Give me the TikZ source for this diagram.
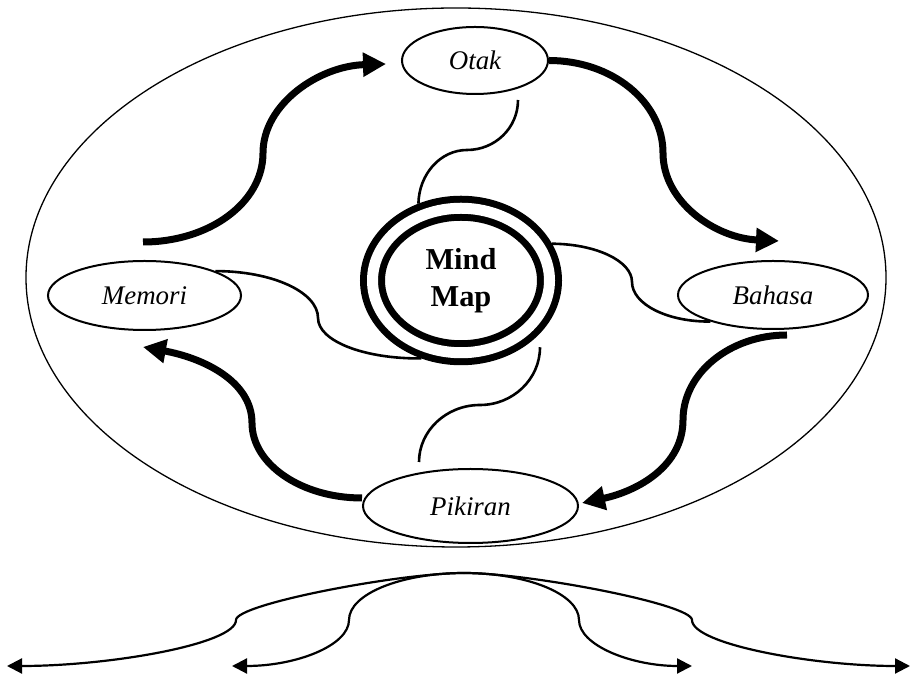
\documentclass[tikz,border=0pt]{standalone}
\usepackage{fontspec}
\setmainfont{Liberation Serif}
\usetikzlibrary{shapes.geometric,arrows.meta,calc}

\begin{document}
\begin{tikzpicture}[x=1bp,y=1bp,
    topic/.style={ellipse,draw,line width=2bp,inner sep=0pt,
      font=\fontsize{27}{32}\selectfont\itshape},
    flow/.style={line width=7bp,-{Triangle[length=23bp,width=23bp]}},
    link/.style={line width=2.6bp},
    branch/.style={line width=2.2bp,-{Triangle[length=15bp,width=15bp]}}]
    \useasboundingbox (0,0) rectangle (913,674);
    \draw[line width=1.3bp] (456,396.5) ellipse [x radius=430bp,y radius=269.5bp];
    % topics
    \node[topic,minimum width=146bp,minimum height=67bp] (otak) at (475,613.5) {Otak};
    \node[topic,minimum width=193bp,minimum height=69bp] (memori) at (144.5,378.5) {Memori};
    \node[topic,minimum width=190bp,minimum height=68bp] (bahasa) at (773,379) {Bahasa};
    \node[topic,minimum width=215bp,minimum height=74bp] (pikiran) at (470.5,168) {Pikiran};
    \node[ellipse,draw,line width=7bp,double,double distance=11bp,outer sep=12.5bp,
      minimum width=177bp,minimum height=144.5bp,align=center,
      font=\fontsize{30.5}{37}\selectfont\bfseries] (mind) at (461,393.5) {Mind\\Map};
    % cycle
    \draw[flow] ($(memori.north)+(-1.5,18)$) .. controls (209,432) and (263,471) .. (263,521)
      .. controls (263,570) and (319,608) .. ($(otak.west)+(-15,-3.5)$);
    \draw[flow] (otak.east) .. controls (612,613.5) and (663,572) .. (663,521)
      .. controls (663,472) and (715,436) .. ($(bahasa.north)+(6,19)$);
    \draw[flow] ($(bahasa.south)+(14,-5)$) .. controls (730,339) and (683,301) .. (683,254)
      .. controls (683,208) and (638,183) .. ($(pikiran.east)+(3,3)$);
    \draw[flow] ($(pikiran.west)+(0,8)$) .. controls (301,176) and (252,210) .. (252,251)
      .. controls (252,293) and (203,316) .. ($(memori.south)+(-1.5,-16)$);
    % links to the centre
    \draw[link] ($(otak.south)+(43,-5)$) .. controls (518,546) and (495,524) .. (467,524)
      .. controls (440.5,524) and (419,500) .. (mind.119);
    \draw[link] (mind.22) .. controls (596,430) and (632,413) .. (632,392)
      .. controls (632,370) and (667,352) .. (bahasa.203);
    \draw[link] (memori.19) .. controls (272,403) and (318,382) .. (318,356)
      .. controls (318,333) and (364,315) .. (mind.243);
    \draw[link] ($(mind.south)+(79,18)$) .. controls (540,295) and (513,269) .. (480,269)
      .. controls (446,269) and (419,243) .. ($(pikiran.north)+(-51.5,6)$);
    % branches
    \coordinate (root) at (464,101);
    \coordinate (leftout) at (7,8);
    \coordinate (leftin) at (232,8);
    \coordinate (rightin) at (692,8);
    \coordinate (rightout) at (910,8);
    \draw[branch] (root) .. controls (400,101) and (236,70) .. (236,54)
      .. controls (236,30) and (110,8) .. (leftout);
    \draw[branch] (root) .. controls (401,101) and (349,80) .. (349,54)
      .. controls (349,28.6) and (296.6,8) .. (leftin);
    \draw[branch] (root) .. controls (527,101) and (579,80) .. (579,54)
      .. controls (579,28.6) and (631.4,8) .. (rightin);
    \draw[branch] (root) .. controls (528,101) and (692,70) .. (692,54)
      .. controls (692,30) and (812,8) .. (rightout);
  \end{tikzpicture}
\end{document}
